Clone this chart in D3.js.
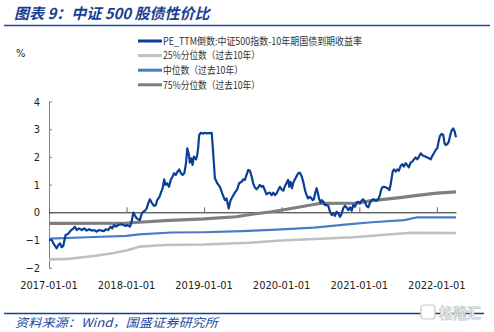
<!DOCTYPE html>
<html>
<head>
<meta charset="utf-8">
<script src="https://cdn.jsdelivr.net/npm/d3@7"></script>
<style>
  html, body { margin: 0; padding: 0; background: #fff; }
  svg { display: block; }
  .num { font-family: "Liberation Sans Narrow", "Arial Narrow", "DejaVu Sans Condensed", sans-serif; font-size: 11px; fill: #222; }
  .cjk { font-family: "Noto Sans CJK SC", sans-serif; }
</style>
</head>
<body>
<svg id="chart" width="494" height="332"></svg>
<script>
// PE_TTM reciprocal of CSI 500 minus 10Y government bond yield (%)
const spreadDates = [
  "2017-01-01","2017-01-14","2017-01-26","2017-02-06","2017-02-14","2017-02-22","2017-03-02","2017-03-09",
  "2017-03-20","2017-04-01","2017-04-13","2017-04-22","2017-05-03","2017-05-11","2017-05-22","2017-06-04",
  "2017-06-16","2017-06-27","2017-07-09","2017-07-21","2017-08-02","2017-08-13","2017-08-24","2017-09-06",
  "2017-09-16","2017-09-26","2017-10-07","2017-10-18","2017-10-26","2017-11-03","2017-11-12","2017-11-23",
  "2017-12-06","2017-12-16","2017-12-28","2018-01-06","2018-01-17","2018-01-25","2018-02-02","2018-02-10",
  "2018-02-18","2018-02-25","2018-03-05","2018-03-13","2018-03-21","2018-03-29","2018-04-06","2018-04-13",
  "2018-04-21","2018-04-29","2018-05-10","2018-05-19","2018-05-25","2018-06-04","2018-06-12","2018-06-20",
  "2018-06-27","2018-07-04","2018-07-11","2018-07-20","2018-07-28","2018-08-06","2018-08-13","2018-08-21",
  "2018-08-29","2018-09-06","2018-09-14","2018-09-22","2018-09-30","2018-10-08","2018-10-14","2018-10-22",
  "2018-10-26","2018-11-02","2018-11-08","2018-11-14","2018-11-24","2018-11-30","2018-12-04","2018-12-09",
  "2018-12-16","2018-12-27","2019-01-05","2019-01-14","2019-01-24","2019-02-06","2019-02-13","2019-02-21",
  "2019-03-04","2019-03-17","2019-03-27","2019-04-09","2019-04-17","2019-04-27","2019-05-06","2019-05-15",
  "2019-05-26","2019-06-06","2019-06-15","2019-06-27","2019-07-04","2019-07-12","2019-07-20","2019-07-28",
  "2019-08-05","2019-08-13","2019-08-20","2019-08-28","2019-09-05","2019-09-13","2019-09-21","2019-09-29",
  "2019-10-06","2019-10-14","2019-10-22","2019-10-30","2019-11-07","2019-11-15","2019-11-23","2019-12-01",
  "2019-12-09","2019-12-16","2019-12-24","2020-01-01","2020-01-09","2020-01-17","2020-01-25","2020-02-01",
  "2020-02-06","2020-02-12","2020-02-19","2020-02-25","2020-03-04","2020-03-12","2020-03-19","2020-03-27",
  "2020-04-04","2020-04-12","2020-04-20","2020-04-28","2020-05-05","2020-05-13","2020-05-21","2020-05-26",
  "2020-06-01","2020-06-07","2020-06-14","2020-06-20","2020-06-26","2020-07-03","2020-07-09","2020-07-15",
  "2020-07-23","2020-07-31","2020-08-08","2020-08-16","2020-08-24","2020-08-31","2020-09-08","2020-09-16",
  "2020-09-24","2020-10-02","2020-10-10","2020-10-17","2020-10-25","2020-11-02","2020-11-10","2020-11-18",
  "2020-11-26","2020-12-03","2020-12-11","2020-12-19","2020-12-27","2021-01-04","2021-01-12","2021-01-19",
  "2021-01-27","2021-02-04","2021-02-12","2021-02-20","2021-02-28","2021-03-07","2021-03-15","2021-03-23",
  "2021-03-31","2021-04-08","2021-04-13","2021-04-19","2021-04-27","2021-05-06","2021-05-14","2021-05-22",
  "2021-05-28","2021-06-02","2021-06-07","2021-06-13","2021-06-21","2021-06-28","2021-07-06","2021-07-14",
  "2021-07-22","2021-07-30","2021-08-07","2021-08-14","2021-08-22","2021-08-30","2021-09-07","2021-09-15",
  "2021-09-23","2021-10-01","2021-10-09","2021-10-17","2021-10-24","2021-11-01","2021-11-09","2021-11-17",
  "2021-11-25","2021-12-03","2021-12-10","2021-12-18","2021-12-26","2022-01-03","2022-01-09","2022-01-15",
  "2022-01-23","2022-01-31","2022-02-06","2022-02-12","2022-02-20","2022-02-26","2022-03-05","2022-03-11",
  "2022-03-19","2022-03-26","2022-04-01"
];
const spreadValues = [
  -1.00,-1.00,-1.18,-1.30,-1.18,-1.12,-1.26,-1.22,
  -0.82,-0.78,-0.66,-0.61,-0.52,-0.64,-0.58,-0.64,
  -0.58,-0.66,-0.61,-0.66,-0.64,-0.70,-0.64,-0.66,
  -0.68,-0.61,-0.64,-0.52,-0.58,-0.46,-0.52,-0.46,
  -0.43,-0.46,-0.49,-0.46,-0.52,-0.34,-0.01,-0.12,
  -0.22,-0.25,-0.28,-0.05,0.02,0.06,0.14,0.32,
  0.47,0.35,0.23,0.26,0.44,0.54,0.71,0.87,
  1.19,0.99,1.05,0.92,1.17,1.29,1.41,1.35,
  1.47,1.55,1.41,1.35,1.41,1.77,2.31,2.07,
  1.79,1.95,1.71,2.01,1.91,2.07,2.32,2.79,
  2.87,2.84,2.87,2.85,2.86,2.87,2.14,1.23,
  1.05,0.92,0.69,0.44,0.50,0.14,0.44,0.56,
  0.71,0.83,1.05,1.10,1.19,1.17,1.35,1.53,
  1.50,1.29,1.05,0.90,0.83,0.90,0.99,0.92,
  0.95,0.80,0.65,0.69,0.71,0.62,0.71,0.62,
  0.69,0.80,0.92,0.83,0.78,0.95,1.07,1.17,
  0.92,1.10,0.87,1.07,1.19,1.31,1.41,1.43,
  1.31,1.10,0.80,0.62,0.50,0.56,0.50,0.44,
  0.47,0.69,0.87,0.69,0.47,0.35,0.44,0.38,
  0.26,0.26,0.23,0.02,-0.10,-0.04,-0.13,0.02,
  -0.04,-0.16,-0.04,0.14,0.23,0.18,0.08,0.18,
  0.06,0.26,0.20,0.35,0.38,0.32,0.42,0.47,
  0.38,0.23,0.18,0.35,0.44,0.47,0.44,0.42,
  0.47,0.62,0.80,0.90,0.92,0.90,0.87,0.80,
  0.99,1.23,1.47,1.55,1.47,1.55,1.50,1.67,
  1.74,1.65,1.77,1.71,1.62,1.79,1.83,1.91,
  1.98,1.91,2.01,2.13,2.07,2.03,2.01,1.98,
  1.95,1.91,2.03,2.13,2.25,2.31,2.55,2.75,
  2.83,2.79,2.49,2.43,2.47,2.55,2.79,2.95,
  3.03,2.91,2.71
];

// Rolling 10-year 25th percentile
const p25Dates  = ["2017-01-01","2017-04-01","2017-08-01","2017-11-01","2018-01-01","2018-03-01","2018-07-01","2019-01-01","2019-08-01","2020-01-01","2020-12-01","2021-09-01","2022-04-01"];
const p25Values = [-1.70,-1.68,-1.58,-1.47,-1.38,-1.24,-1.18,-1.16,-1.10,-1.02,-0.90,-0.74,-0.75];

// Rolling 10-year median
const p50Dates  = ["2017-01-01","2017-07-01","2018-01-01","2018-03-01","2018-08-01","2019-01-01","2019-07-01","2020-01-01","2020-06-01","2020-12-01","2021-03-01","2021-08-01","2021-10-01","2022-04-01"];
const p50Values = [-0.95,-0.90,-0.85,-0.80,-0.73,-0.72,-0.68,-0.62,-0.55,-0.42,-0.36,-0.28,-0.18,-0.18];

// Rolling 10-year 75th percentile
const p75Dates  = ["2017-01-01","2018-01-01","2018-03-01","2018-07-01","2019-01-01","2019-06-01","2019-08-15","2019-11-15","2020-02-01","2020-04-01","2020-06-01","2020-07-01","2020-12-20","2021-03-01","2021-07-01","2021-10-01","2022-01-01","2022-04-01"];
const p75Values = [-0.40,-0.39,-0.36,-0.30,-0.24,-0.16,-0.07,0.02,0.12,0.20,0.28,0.32,0.33,0.42,0.52,0.61,0.69,0.74];

const xTickLabels = ["2017-01-01","2018-01-01","2019-01-01","2020-01-01","2021-01-01","2022-01-01"];
const yTicks = [-2, -1, 0, 1, 2, 3, 4];
const legendLabels = [
  "PE_TTM倒数:中证500指数-10年期国债到期收益率",
  "25%分位数（过去10年）",
  "中位数（过去10年）",
  "75%分位数（过去10年）"
];

const parse = d3.timeParse("%Y-%m-%d");
const zip = (ds, vs) => ds.map((d, i) => ({ date: parse(d), value: vs[i] }));

const series = [
  { name: legendLabels[1], data: zip(p25Dates, p25Values), color: "#C0C0C0", width: 2.6, legendWidth: 97 },
  { name: legendLabels[2], data: zip(p50Dates, p50Values), color: "#4A7BC8", width: 2.2, legendWidth: 80 },
  { name: legendLabels[3], data: zip(p75Dates, p75Values), color: "#7F7F7F", width: 3.2, legendWidth: 97 },
  { name: legendLabels[0], data: zip(spreadDates, spreadValues), color: "#0B3F96", width: 2.2, legendWidth: 199 }
];

const svg = d3.select("#chart");

const x = d3.scaleTime()
  .domain([parse("2017-01-01"), parse("2022-04-01")])
  .range([49, 456]);
const y = d3.scaleLinear().domain([-2, 4]).range([267.7, 101.5]);

// Header title and rule
svg.append("text")
  .attr("class", "cjk")
  .attr("x", 14).attr("y", 19)
  .attr("fill", "#1B3F90")
  .attr("font-size", 15).attr("font-weight", 700).attr("font-style", "italic")
  .text("图表 9：中证 500 股债性价比");
svg.append("line")
  .attr("x1", 4).attr("x2", 490).attr("y1", 25.5).attr("y2", 25.5)
  .attr("stroke", "#1A4A9C").attr("stroke-width", 1.6);

// Unit label
svg.append("text").attr("class", "num")
  .attr("x", 16).attr("y", 57).attr("font-size", 11).text("%");

// Y axis (ticks pointing inward)
const yAxis = svg.append("g")
  .attr("transform", "translate(49,0)")
  .call(d3.axisLeft(y).tickValues(yTicks).tickFormat(d3.format("d"))
    .tickSizeInner(-3).tickSizeOuter(0).tickPadding(9));
yAxis.select(".domain").attr("stroke", "#808080");
yAxis.selectAll(".tick line").attr("stroke", "#808080");
yAxis.selectAll(".tick text").attr("class", "num").attr("fill", "#222");

// Zero baseline with upward ticks
const xAxis = svg.append("g")
  .attr("transform", `translate(0,${y(0)})`)
  .call(d3.axisBottom(x).tickValues(xTickLabels.map(parse)).tickSizeInner(-5).tickSizeOuter(0).tickFormat(""));
xAxis.select(".domain").attr("stroke", "#222");
xAxis.selectAll(".tick line").attr("stroke", "#666");

// Date labels along the bottom
svg.append("g").selectAll("text")
  .data(xTickLabels)
  .join("text")
  .attr("class", "num")
  .attr("x", d => x(parse(d)))
  .attr("y", 289)
  .attr("text-anchor", "middle")
  .text(d => d);

// Lines
const line = d3.line().x(d => x(d.date)).y(d => y(d.value));
svg.append("g").selectAll("path")
  .data(series)
  .join("path")
  .attr("d", d => line(d.data))
  .attr("fill", "none")
  .attr("stroke", d => d.color)
  .attr("stroke-width", d => d.width)
  .attr("stroke-linejoin", "round");

// Legend
const legendOrder = [series[3], series[0], series[1], series[2]];
const lg = svg.append("g").attr("transform", "translate(138,41)");
legendOrder.forEach((s, i) => {
  const row = lg.append("g").attr("transform", `translate(0,${i * 14.6})`);
  row.append("line").attr("x1", 0).attr("x2", 24).attr("y1", 0).attr("y2", 0)
    .attr("stroke", s.color).attr("stroke-width", 3);
  row.append("text").attr("class", "cjk")
    .attr("x", 25).attr("y", 3.8)
    .attr("font-size", 10).attr("fill", "#333")
    .attr("textLength", s.legendWidth).attr("lengthAdjust", "spacingAndGlyphs")
    .text(s.name);
});

// Footer rule and source
svg.append("line")
  .attr("x1", 4).attr("x2", 484).attr("y1", 313.5).attr("y2", 313.5)
  .attr("stroke", "#0E3F99").attr("stroke-width", 1.6);
svg.append("text")
  .attr("class", "cjk")
  .attr("x", 15).attr("y", 327)
  .attr("fill", "#1B4A9E").attr("font-size", 12).attr("font-style", "italic")
  .attr("textLength", 203).attr("lengthAdjust", "spacingAndGlyphs")
  .text("资料来源：Wind，国盛证券研究所");

// Brand mark
const wm = svg.append("g").attr("transform", "translate(421,305)");
wm.append("rect").attr("x", 0).attr("y", 0).attr("width", 14).attr("height", 14).attr("rx", 3)
  .attr("fill", "#fff").attr("stroke", "#c8c8c8").attr("stroke-width", 1.2);
wm.append("text").attr("class", "cjk")
  .attr("x", 18).attr("y", 12.5).attr("font-size", 14).attr("font-weight", 700)
  .attr("fill", "#fff").attr("stroke", "#c8c8c8").attr("stroke-width", 0.8)
  .text("格隆汇");
</script>
</body>
</html>
